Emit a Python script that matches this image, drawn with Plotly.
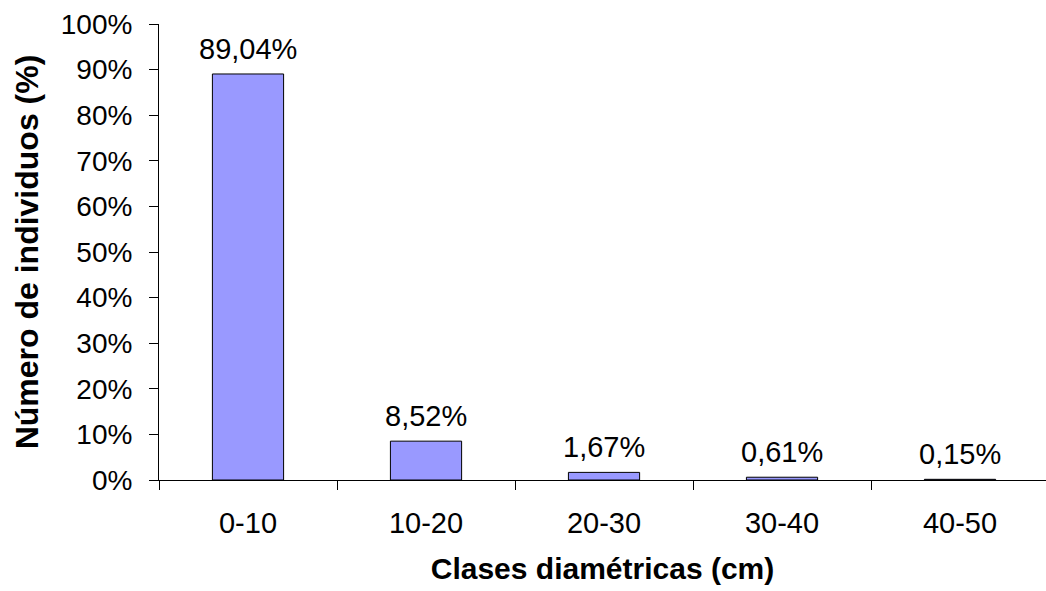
import plotly.graph_objects as go

# Diameter classes and share of individuals (%)
clases = ["0-10", "10-20", "20-30", "30-40", "40-50"]
porcentajes = [89.04, 8.52, 1.67, 0.61, 0.15]
y_ticks = [0, 10, 20, 30, 40, 50, 60, 70, 80, 90, 100]

FONT = "Liberation Sans, Arial, sans-serif"

fig = go.Figure()
fig.add_trace(go.Bar(
    x=clases,
    y=porcentajes,
    marker=dict(color="#9999FF", line=dict(color="#000000", width=1)),
    hoverinfo="skip",
))

# value labels above each bar, written with decimal comma
for c, v in zip(clases, porcentajes):
    fig.add_annotation(
        x=c, y=v, text=f"{v:.2f}".replace(".", ",") + "%",
        showarrow=False, yanchor="bottom", yshift=7,
        font=dict(family=FONT, size=29, color="#000000"),
    )

fig.update_layout(
    width=1046, height=591,
    margin=dict(l=159, r=0, t=24, b=111),
    paper_bgcolor="white", plot_bgcolor="white",
    bargap=0.6,
    showlegend=False,
    font=dict(family=FONT, size=29, color="#000000"),
)

fig.update_xaxes(
    type="category",
    range=[-0.5, 4.483],
    tickson="boundaries",
    ticks="outside", ticklen=9, tickwidth=1, tickcolor="#000000",
    showline=True, linecolor="#000000", linewidth=1,
    showgrid=False, zeroline=False,
    ticklabelstandoff=17,
    tickfont=dict(family=FONT, size=29),
    title=dict(text="<b>Clases diamétricas (cm)</b>", standoff=20,
               font=dict(family=FONT, size=30)),
)

fig.update_yaxes(
    range=[0, 100],
    tickvals=y_ticks,
    ticktext=[f"{t}%" for t in y_ticks],
    ticks="outside", ticklen=9, tickwidth=1, tickcolor="#000000",
    showline=True, linecolor="#000000", linewidth=1,
    showgrid=False, zeroline=False,
    ticklabelstandoff=11,
    tickfont=dict(family=FONT, size=28),
    title=dict(text="<b>Número de individuos (%)</b>", standoff=12,
               font=dict(family=FONT, size=32)),
)

fig.write_html("out.html")
